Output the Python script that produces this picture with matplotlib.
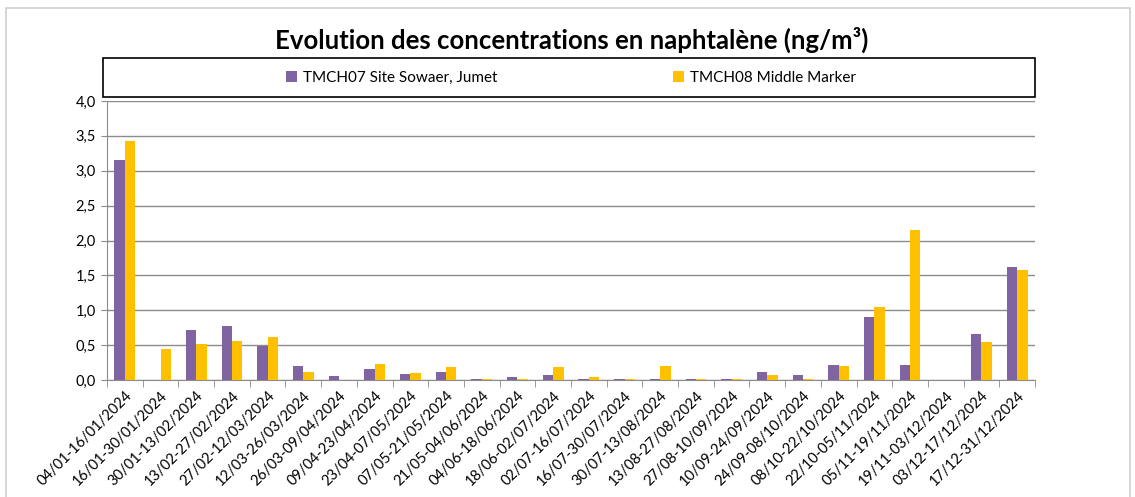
import numpy as np
import matplotlib.pyplot as plt
from matplotlib.patches import Rectangle

# Periods (two-week sampling)
periods = ['04/01-16/01/2024', '16/01-30/01/2024', '30/01-13/02/2024', '13/02-27/02/2024',
           '27/02-12/03/2024', '12/03-26/03/2024', '26/03-09/04/2024', '09/04-23/04/2024',
           '23/04-07/05/2024', '07/05-21/05/2024', '21/05-04/06/2024', '04/06-18/06/2024',
           '18/06-02/07/2024', '02/07-16/07/2024', '16/07-30/07/2024', '30/07-13/08/2024',
           '13/08-27/08/2024', '27/08-10/09/2024', '10/09-24/09/2024', '24/09-08/10/2024',
           '08/10-22/10/2024', '22/10-05/11/2024', '05/11-19/11/2024', '19/11-03/12/2024',
           '03/12-17/12/2024', '17/12-31/12/2024']

nan = np.nan
tmch07 = [3.16, nan, 0.72, 0.78, 0.49, 0.20, 0.057, 0.16, 0.09, 0.12, 0.02, 0.05, 0.065,
          0.02, 0.02, 0.02, 0.02, 0.02, 0.12, 0.07, 0.22, 0.905, 0.21, nan, 0.656, 1.62]
tmch08 = [3.43, 0.45, 0.52, 0.565, 0.61, 0.115, nan, 0.235, 0.10, 0.19, 0.015, 0.015, 0.19,
          0.05, 0.02, 0.20, 0.015, 0.015, 0.07, 0.015, 0.20, 1.05, 2.15, nan, 0.54, 1.57]

label07 = 'TMCH07 Site Sowaer, Jumet'
label08 = 'TMCH08 Middle Marker'
title = 'Evolution des concentrations en naphtalène (ng/m³)'

purple = '#8064A2'
yellow = '#FFC000'
grid_col = '#8C8C8C'

plt.rcParams['font.family'] = ['Lato', 'DejaVu Sans']

W, H = 1135, 497
fig = plt.figure(figsize=(W / 100, H / 100), dpi=100)

# outer chart border
fig.patches.append(Rectangle((6 / W, -0.05), 1124 / W, 1.05 - 8 / H, transform=fig.transFigure,
                             fill=False, edgecolor='#D0D0D0', lw=1.2))

ax = fig.add_axes([107 / W, 1 - 380 / H, 928 / W, 279 / H])

x = np.arange(len(periods))
bw = 0.29
ax.bar(x - bw / 2, tmch07, bw, color=purple, label=label07, zorder=3)
ax.bar(x + bw / 2, tmch08, bw, color=yellow, label=label08, zorder=3)

ax.set_xlim(-0.5, len(periods) - 0.5)
ax.set_ylim(0, 4.0)
ax.set_yticks(np.arange(0, 4.01, 0.5))
ax.set_yticklabels([f'{v:.1f}'.replace('.', ',') for v in np.arange(0, 4.01, 0.5)], fontsize=10.5)
ax.yaxis.grid(True, color=grid_col, lw=1, zorder=0)

ax.set_xticks(x)
ax.set_xticklabels(periods, rotation=45, ha='right', rotation_mode='anchor', fontsize=10.5)
ax.tick_params(axis='x', length=0, pad=6)
ax.set_xticks(np.arange(-0.5, len(periods)), minor=True)
ax.tick_params(axis='x', which='minor', length=5, color=grid_col)
ax.tick_params(axis='y', length=4, color=grid_col, pad=4)

for s in ['top', 'right']:
    ax.spines[s].set_visible(False)
ax.spines['left'].set_color(grid_col)
ax.spines['bottom'].set_color(grid_col)

fig.text(572 / W, 1 - 40 / H, title, ha='center', va='center', fontsize=18.5, fontweight='bold')

# legend box
fig.patches.append(Rectangle((103 / W, 1 - 97 / H), 932 / W, 39 / H, transform=fig.transFigure,
                             fill=False, edgecolor='black', lw=1.2))
fig.legend(loc='center', bbox_to_anchor=(571 / W, 1 - 77.5 / H), ncol=2, frameon=False,
           fontsize=11, handlelength=0.7, handleheight=0.7, handletextpad=0.4,
           columnspacing=11.5)

fig.savefig('out.png', dpi=100)
